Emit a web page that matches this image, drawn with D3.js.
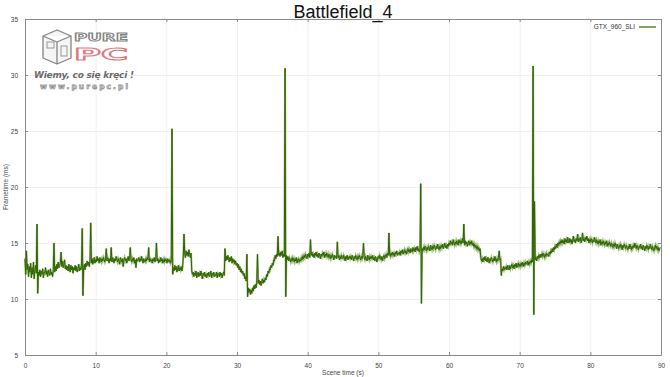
<!DOCTYPE html>
<html><head><meta charset="utf-8">
<script src="https://cdn.jsdelivr.net/npm/d3@7"></script>
<style>
html,body{margin:0;padding:0;background:#fff;}
svg{display:block;}
</style></head>
<body>
<svg id="chart" width="670" height="377"></svg>
<script>
// ---- data ----
const chartTitle = "Battlefield_4";
const seriesName = "GTX_960_SLI";
const xTicks = [0, 10, 20, 30, 40, 50, 60, 70, 80, 90];
const yTicks = [5, 10, 15, 20, 25, 30, 35];
const sceneTimeStart = 0;     // s
const sceneTimeStep = 0.1;    // s between samples
// frametime (ms), one row per second of scene time
const frametimeMs = [
13.6,12.2,14.3,12.6,13.1,12.0,12.9,12.4,13.2,11.9,
12.8,12.2,13.3,11.8,12.6,13.0,12.3,16.7,10.5,12.4,
12.1,12.6,12.0,12.5,12.2,12.7,11.9,12.4,12.3,12.8,
12.2,12.5,12.0,12.6,12.3,12.1,12.7,12.2,12.4,12.0,
12.6,15.0,12.4,12.9,12.5,13.1,12.7,13.3,12.8,13.0,
13.2,14.2,12.9,13.4,12.8,13.1,13.5,12.7,13.0,12.6,
12.9,12.5,13.1,12.7,12.4,13.0,12.6,12.9,12.3,12.8,
12.6,13.0,12.5,12.9,12.4,12.7,13.1,12.5,12.8,12.6,
13.0,16.3,10.3,12.8,13.1,12.6,13.2,12.9,13.4,13.0,
13.3,12.9,13.5,16.8,13.2,13.6,13.1,13.4,13.7,13.2,
13.5,13.3,13.8,13.4,13.6,13.2,13.7,13.5,13.3,13.6,
13.4,13.7,13.5,13.3,13.6,14.5,13.4,13.7,13.5,13.2,
13.6,13.4,14.6,13.3,13.7,13.5,13.2,13.6,13.4,13.8,
13.5,13.3,13.6,13.4,13.1,13.7,13.5,13.3,13.6,12.9,
13.5,13.7,13.4,13.6,13.2,13.5,13.8,13.4,13.6,14.6,
13.5,13.3,13.6,13.4,13.7,13.2,13.5,12.8,13.6,13.4,
13.5,13.7,13.3,13.6,13.4,13.8,13.5,13.2,13.6,13.4,
13.3,13.6,13.4,13.7,13.5,14.6,13.3,13.6,13.4,13.5,
13.2,13.6,13.4,13.7,13.3,13.5,15.0,13.4,13.6,13.2,
13.5,13.3,13.7,13.4,13.6,13.2,13.5,13.3,13.6,13.4,
13.5,13.2,13.6,13.4,13.3,13.5,13.2,13.4,25.2,12.2,
12.8,12.5,13.0,12.6,12.9,12.4,12.7,13.0,12.5,12.8,
12.6,12.9,12.5,12.8,13.8,15.8,14.1,13.7,14.3,13.9,
14.2,13.8,14.4,14.0,13.7,14.1,12.5,12.2,12.4,12.0,
12.3,12.1,12.5,11.9,12.2,12.4,12.0,12.3,12.1,12.5,
12.2,11.8,12.3,12.1,12.4,12.0,12.2,11.9,12.3,12.1,
12.4,12.0,12.2,12.5,11.9,12.3,12.1,12.4,12.0,12.2,
12.1,12.4,11.9,12.3,12.2,12.0,12.4,12.1,12.3,11.9,
12.2,12.4,12.1,14.5,13.4,13.8,13.5,13.9,13.6,13.3,
13.7,13.4,13.8,13.2,13.6,13.3,13.5,13.1,13.4,13.0,
13.2,12.8,13.1,12.6,12.9,12.4,12.7,12.3,12.5,12.1,
12.3,11.8,12.0,11.6,14.0,10.2,11.0,10.6,10.9,10.4,
10.8,10.5,11.0,10.7,11.2,10.9,11.3,11.0,11.5,14.0,
11.4,11.7,11.3,11.6,11.2,11.5,11.8,11.4,11.7,11.5,
11.9,11.7,12.2,12.0,12.5,12.3,12.7,12.6,13.0,12.8,
13.2,13.0,13.5,13.4,13.9,13.6,14.0,13.8,15.6,13.9,
14.1,13.8,14.2,13.9,14.3,13.7,14.0,13.8,30.6,10.2,
13.9,13.5,13.8,13.4,13.7,13.5,13.3,13.6,13.4,13.7,
13.5,13.3,13.6,13.4,13.7,13.2,13.5,13.6,13.3,13.5,
13.4,13.7,13.5,13.8,13.6,13.9,13.7,14.0,13.8,13.6,
14.0,13.8,14.1,13.7,15.3,13.9,14.2,13.8,14.0,13.7,
14.1,13.9,14.2,13.8,14.0,13.7,14.1,13.9,13.6,14.0,
13.8,14.1,13.9,14.2,13.7,14.0,13.8,14.1,13.9,13.7,
14.0,13.8,13.6,13.9,13.7,14.0,13.8,13.5,13.9,13.7,
13.8,13.6,15.1,13.7,13.9,13.5,13.8,13.6,13.9,13.7,
13.6,13.9,13.7,13.4,13.8,13.6,13.9,13.5,13.7,13.8,
13.6,13.8,13.5,13.9,13.7,13.4,13.8,13.6,13.9,13.7,
13.5,13.8,13.6,13.9,13.7,13.5,13.8,13.6,13.9,15.0,
13.7,13.5,13.8,13.6,13.4,13.9,13.7,13.5,13.8,13.6,
13.8,13.6,13.9,13.5,13.7,13.4,13.8,13.6,13.3,13.7,
13.8,13.6,13.9,13.7,13.5,13.8,13.4,13.7,13.9,13.6,
13.8,14.0,13.7,14.1,13.9,15.9,14.0,13.8,14.1,13.9,
14.2,13.9,14.1,13.8,14.2,14.0,14.3,13.9,14.1,14.0,
14.2,13.9,14.3,14.1,14.4,14.0,14.2,14.4,14.1,14.3,
14.0,14.3,14.5,14.2,14.4,14.1,14.5,14.3,14.2,14.6,
14.3,14.5,14.2,14.6,14.4,14.7,14.3,14.5,14.2,14.4,
20.3,9.6,14.5,14.3,14.6,14.4,14.7,14.5,14.3,14.6,
14.4,14.7,14.5,14.3,14.8,14.6,14.4,14.7,14.5,14.8,
14.6,14.4,14.7,14.5,14.9,14.6,14.4,14.7,14.5,14.8,
14.6,14.9,14.5,14.7,15.0,14.6,14.8,14.5,14.9,14.7,
15.0,14.8,15.2,14.9,15.1,14.8,15.3,15.0,14.8,15.1,
14.9,15.2,15.0,14.8,15.3,15.0,15.2,14.9,15.1,15.4,
15.0,16.7,14.8,15.2,14.9,15.1,14.7,15.0,15.2,14.8,
15.1,14.9,15.2,14.8,15.0,14.7,14.9,14.6,14.8,14.5,
14.7,14.4,14.6,14.3,14.5,13.7,13.4,13.6,13.3,13.7,
13.5,13.8,13.4,13.6,13.3,13.7,13.5,13.2,13.6,13.4,
13.7,13.5,13.3,13.6,13.4,13.8,13.5,13.3,13.6,13.4,
13.7,14.3,13.5,13.6,12.1,12.7,12.5,12.9,12.6,12.8,
12.7,12.9,12.6,13.0,12.8,12.6,13.0,12.7,12.9,13.1,
12.8,13.0,12.7,13.1,12.9,13.2,12.8,13.0,13.2,12.9,
13.1,12.9,13.2,13.0,13.3,12.9,13.2,13.0,13.3,13.1,
13.2,13.4,13.0,13.3,13.1,13.4,13.2,13.5,13.3,30.8,
8.6,18.7,13.5,13.7,13.4,13.8,13.6,13.9,13.7,14.0,
13.7,14.0,13.8,14.1,13.9,13.7,14.0,13.8,14.1,13.9,
14.0,13.8,14.2,14.0,14.3,14.1,14.5,14.2,14.6,14.4,
14.7,14.5,14.9,14.6,15.0,14.8,15.1,14.9,15.2,15.0,
15.3,15.0,15.2,14.9,15.4,15.1,15.3,15.0,15.5,15.2,
15.0,15.4,15.1,15.3,14.9,15.2,15.6,15.1,15.3,15.0,
15.4,15.2,15.8,15.1,15.4,15.2,15.5,15.0,15.3,15.9,
15.2,15.4,15.1,15.5,15.3,15.6,15.2,15.4,15.0,15.3,
15.1,15.4,15.2,15.0,15.3,15.1,15.5,15.2,15.0,15.3,
15.1,14.9,15.2,15.0,15.3,14.8,15.1,14.9,15.2,15.0,
14.8,15.1,14.9,15.2,14.7,15.0,14.8,15.1,14.9,14.7,
15.0,14.8,14.6,14.9,14.7,15.0,14.8,14.5,14.9,14.7,
14.5,14.8,14.6,14.9,14.7,14.4,14.8,14.6,14.9,14.7,
14.5,14.8,14.6,14.4,14.7,14.5,14.9,14.6,14.4,14.7,
14.5,14.8,14.6,15.0,14.7,14.5,14.8,14.6,14.4,14.7,
14.6,14.9,14.5,14.7,14.4,14.8,14.6,14.3,14.7,14.5,
14.8,14.6,14.4,14.7,14.5,14.9,14.6,14.4,14.7,14.5,
14.3,14.6,14.8,14.5,14.7,14.4,14.6,14.3,14.5,14.6
];

// ---- layout ----
const svg = d3.select("#chart");
const m = {left: 25, right: 661, top: 19, bottom: 355};
const x = d3.scaleLinear().domain([0, 90]).range([m.left, m.right]);
const y = d3.scaleLinear().domain([5, 35]).range([m.bottom, m.top]);
const W = m.right - m.left, H = m.bottom - m.top;
const tickFont = "'Liberation Sans', Arial, sans-serif";

// grid
const grid = svg.append("g");
grid.append("g").attr("transform", `translate(0,${m.bottom})`)
  .call(d3.axisBottom(x).tickValues(xTicks).tickSize(-H).tickFormat(""))
  .call(g => { g.select(".domain").remove(); g.selectAll("line").attr("stroke", "#f8eef1").attr("stroke-width", 1); });
grid.append("g").attr("transform", `translate(${m.left},0)`)
  .call(d3.axisLeft(y).tickValues(yTicks).tickSize(-W).tickFormat(""))
  .call(g => { g.select(".domain").remove(); g.selectAll("line").attr("stroke", "#f3eef0").attr("stroke-width", 1); });

// watermark logo
const logo = svg.append("g").attr("opacity", 0.9);
logo.append("path").attr("d", "M43,36 L57,30 L71,36 L71,58 L57,64 L43,58 Z M43,36 L57,42 L71,36 M57,42 L57,64")
  .attr("fill", "#f4f4f4").attr("stroke", "#777").attr("stroke-width", 1.3).attr("stroke-linejoin", "round");
logo.append("rect").attr("x", 47).attr("y", 42).attr("width", 7).attr("height", 6).attr("fill", "none").attr("stroke", "#777").attr("stroke-width", 0.8);
logo.append("rect").attr("x", 61).attr("y", 46).attr("width", 6).attr("height", 10).attr("fill", "none").attr("stroke", "#777").attr("stroke-width", 0.8);
logo.append("text").attr("x", 74).attr("y", 41).text("PURE")
  .attr("font-family", "'DejaVu Sans', sans-serif").attr("font-size", 10).attr("font-weight", "bold")
  .attr("textLength", 54).attr("lengthAdjust", "spacingAndGlyphs")
  .attr("fill", "#fff").attr("stroke", "#777").attr("stroke-width", 0.9);
logo.append("text").attr("x", 74).attr("y", 60).text("PC")
  .attr("font-family", "'DejaVu Sans', sans-serif").attr("font-size", 15).attr("font-weight", "bold")
  .attr("textLength", 54).attr("lengthAdjust", "spacingAndGlyphs")
  .attr("fill", "#fff").attr("stroke", "#d96b70").attr("stroke-width", 1);
logo.append("text").attr("x", 34).attr("y", 78).text("Wiemy, co się kręci !")
  .attr("font-family", "'DejaVu Sans', sans-serif").attr("font-size", 9).attr("font-weight", "bold").attr("font-style", "italic")
  .attr("textLength", 100).attr("fill", "#5a5a5a");
logo.append("text").attr("x", 40).attr("y", 89).text("www.purepc.pl")
  .attr("font-family", "'DejaVu Sans', sans-serif").attr("font-size", 7.5).attr("font-weight", "bold")
  .attr("textLength", 88).attr("fill", "#ddd").attr("stroke", "#777").attr("stroke-width", 0.6);

// frame + ticks
const axStyle = g => {
  g.select(".domain").attr("stroke", "#8a8a8a").attr("stroke-width", 1);
  g.selectAll(".tick line").attr("stroke", "#8a8a8a");
  g.selectAll(".tick text").attr("fill", "#444").attr("font-size", 6.5).attr("font-family", tickFont);
};
svg.append("g").attr("transform", `translate(0,${m.bottom})`)
  .call(d3.axisBottom(x).tickValues(xTicks).tickSizeInner(-3).tickSizeOuter(0).tickPadding(8).tickFormat(d3.format("d")))
  .call(axStyle);
svg.append("g").attr("transform", `translate(0,${m.top})`)
  .call(d3.axisTop(x).tickValues(xTicks).tickSizeInner(-3).tickSizeOuter(0).tickFormat(""))
  .call(axStyle);
svg.append("g").attr("transform", `translate(${m.left},0)`)
  .call(d3.axisLeft(y).tickValues(yTicks).tickSizeInner(-3).tickSizeOuter(0).tickPadding(7).tickFormat(d3.format("d")))
  .call(axStyle);
svg.append("g").attr("transform", `translate(${m.right},0)`)
  .call(d3.axisRight(y).tickValues(yTicks).tickSizeInner(-3).tickSizeOuter(0).tickFormat(""))
  .call(axStyle);

// series line: soft halo + dark core
const pts = frametimeMs.map((v, i) => [sceneTimeStart + i * sceneTimeStep, v]);
const line = d3.line().x(d => x(d[0])).y(d => y(d[1]));
svg.append("path").datum(pts).attr("d", line)
  .attr("fill", "none").attr("stroke", "#76a04c").attr("stroke-width", 2.0).attr("stroke-opacity", 0.7);
svg.append("path").datum(pts).attr("d", line)
  .attr("fill", "none").attr("stroke", "#2f6400").attr("stroke-width", 1.0);

// title
svg.append("text").attr("x", (m.left + m.right) / 2).attr("y", 18).attr("text-anchor", "middle")
  .attr("font-family", "'Liberation Sans', Arial, sans-serif").attr("font-size", 18).attr("fill", "#111")
  .text(chartTitle);

// axis titles
svg.append("text").attr("x", (m.left + m.right) / 2).attr("y", 375).attr("text-anchor", "middle")
  .attr("font-family", tickFont).attr("font-size", 6.5).attr("fill", "#444").text("Scene time (s)");
svg.append("text").attr("transform", `translate(8,${(m.top + m.bottom) / 2}) rotate(-90)`).attr("text-anchor", "middle")
  .attr("font-family", tickFont).attr("font-size", 6.5).attr("fill", "#444").text("Frametime (ms)");

// legend
svg.append("text").attr("x", 635).attr("y", 29).attr("text-anchor", "end")
  .attr("font-family", tickFont).attr("font-size", 6.5).attr("fill", "#333").text(seriesName);
svg.append("line").attr("x1", 639).attr("x2", 656).attr("y1", 27).attr("y2", 27)
  .attr("stroke", "#2f6400").attr("stroke-width", 1.2);
</script>
</body></html>
